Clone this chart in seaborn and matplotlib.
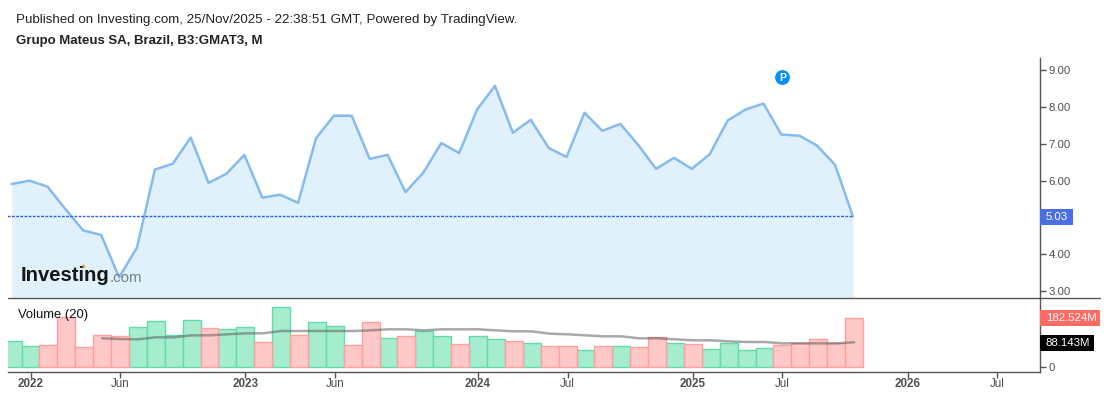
import matplotlib
matplotlib.use("Agg")
import matplotlib.pyplot as plt
from matplotlib.lines import Line2D
import numpy as np
import pandas as pd
import seaborn as sns

price = [5.91, 6.00, 5.84, 5.23, 4.65, 4.53, 3.38, 4.19, 6.30, 6.46, 7.17, 5.94,
         6.19, 6.70, 5.54, 5.62, 5.40, 7.15, 7.76, 7.76, 6.59, 6.70, 5.69, 6.22,
         7.02, 6.75, 7.93, 8.57, 7.30, 7.65, 6.89, 6.64, 7.84, 7.35, 7.54, 6.97,
         6.32, 6.62, 6.32, 6.72, 7.63, 7.93, 8.09, 7.25, 7.22, 6.95, 6.43, 5.03]
volume = [95.6, 76.7, 80.5, 186.2, 73.0, 118.3, 114.5, 148.4, 171.0, 118.3, 174.9, 144.7,
          140.9, 148.4, 91.8, 223.9, 118.3, 167.3, 152.2, 80.5, 167.3, 106.9, 114.5, 133.3,
          114.5, 84.3, 114.5, 103.2, 95.6, 88.1, 76.7, 76.7, 61.6, 76.7, 76.7, 73.0,
          110.7, 88.1, 84.3, 65.4, 88.1, 61.6, 69.2, 80.5, 88.1, 103.2, 88.1, 182.5]
direction = ["G", "G", "R", "R", "R", "R", "R", "G", "G", "G", "G", "R",
             "G", "G", "R", "G", "R", "G", "G", "R", "R", "G", "R", "G",
             "G", "R", "G", "G", "R", "G", "R", "R", "G", "R", "G", "R",
             "R", "G", "R", "G", "G", "G", "G", "R", "R", "R", "R", "R"]
vol_ma = [106.9, 104.4, 103.2, 110.7, 110.7, 118.3, 118.3, 122.0, 125.8, 125.8,
          134.6, 134.6, 134.6, 134.6, 134.6, 137.1, 140.9, 140.9, 137.1, 140.9,
          140.9, 140.9, 137.1, 133.3, 133.3, 124.5, 122.0, 118.3, 114.5, 114.5,
          106.9, 106.9, 103.2, 99.4, 99.4, 95.6, 93.1, 93.1, 88.1, 88.1, 88.1, 88.1, 91.8]
ma_start = 5
last_price = 5.03
last_volume = 182.524
last_ma = 88.143
price_ticks = [3, 4, 5, 6, 7, 8, 9]
price_tick_labels = ["3.00", "4.00", "", "6.00", "7.00", "8.00", "9.00"]
volume_ticks = [0, 100, 200]
volume_tick_labels = ["0", "", "200M"]
x_ticks = [1, 6, 13, 18, 26, 31, 38, 43, 50, 55]
x_tick_labels = ["2022", "Jun", "2023", "Jun", "2024", "Jul", "2025", "Jul", "2026", "Jul"]
year_labels = {"2022", "2023", "2024", "2025", "2026"}

idx = np.arange(len(price))
df = pd.DataFrame({"idx": idx, "price": price, "volume": volume, "direction": direction})
df_ma = pd.DataFrame({"idx": idx[ma_start:], "ma": vol_ma})

sns.set_theme(style="white")
plt.rcParams["font.family"] = ["Liberation Sans", "DejaVu Sans"]

W, H = 1107, 395
fig = plt.figure(figsize=(W / 100, H / 100), dpi=100)
def axpx(l, t, r, b):
    return fig.add_axes([l / W, 1 - b / H, (r - l) / W, (b - t) / H])

AXC = "#555555"
TXT = "#4f4f4f"
ax = axpx(8, 58, 1040, 298)
av = axpx(8, 298, 1040, 371.7)

# price pane
ax.fill_between(df["idx"], df["price"], 2.0, color="#e0f1fb", lw=0, zorder=1)
sns.lineplot(data=df, x="idx", y="price", ax=ax, color="#85bbee", lw=1.8, zorder=2, errorbar=None)
ax.plot([-1, 47], [last_price, last_price], color="#2f5fe8", lw=1, ls=(0, (2, 1)), zorder=3)
ax.set_xlim(-0.207, 57.45)
ax.set_ylim(2.821, 9.325)
ax.yaxis.tick_right()
ax.set_yticks(price_ticks, price_tick_labels)
ax.set_xticks([])
ax.set_xlabel("")
ax.set_ylabel("")
ax.tick_params(axis="y", length=4, width=1, color=AXC, labelcolor=TXT, labelsize=8.2, pad=2, right=True)

# volume pane
for key, fc, ec in [("G", "#a6edcf", "#64dca8"), ("R", "#ffc8c8", "#ffa09c")]:
    sub = df[df["direction"] == key]
    sns.barplot(data=sub, x="idx", y="volume", ax=av, native_scale=True, width=1.0,
                color=fc, saturation=1, edgecolor=ec, linewidth=1, errorbar=None, zorder=2)
sns.lineplot(data=df_ma, x="idx", y="ma", ax=av, color="#555555", alpha=0.5, lw=1.8, zorder=3, errorbar=None)
av.set_xlim(-0.257, 57.39)
av.set_ylim(-18.9, 259)
av.yaxis.tick_right()
av.set_yticks(volume_ticks, volume_tick_labels)
av.set_xticks(x_ticks, x_tick_labels)
av.set_xlabel("")
av.set_ylabel("")
av.tick_params(axis="y", length=4, width=1, color=AXC, labelcolor=TXT, labelsize=8.2, pad=2, right=True)
av.tick_params(axis="x", length=4, width=1, color=AXC, labelcolor=TXT, labelsize=8.4, pad=0.5, bottom=True)
for t in av.get_xticklabels():
    if t.get_text() in year_labels:
        t.set_fontweight("bold")

for a in (ax, av):
    for s in a.spines.values():
        s.set_visible(False)
    a.spines["right"].set_visible(True)
    a.spines["right"].set_color(AXC)
    a.spines["right"].set_linewidth(1)
av.spines["bottom"].set_visible(True)
av.spines["bottom"].set_color(AXC)
av.spines["bottom"].set_linewidth(1)

fig.add_artist(Line2D([8 / W, 1100 / W], [1 - 298 / H] * 2, color=AXC, lw=1))

def ftext(x, y, s, **kw):
    return fig.text(x / W, 1 - y / H, s, va="center", **kw)

ftext(15.5, 19.5, "Published on Investing.com, 25/Nov/2025 - 22:38:51 GMT, Powered by TradingView.",
      fontsize=9.6, color="#222222")
ftext(15.5, 41, "Grupo Mateus SA, Brazil, B3:GMAT3, M", fontsize=9.5, fontweight="bold", color="#222222")
ftext(18, 315, "Volume (20)", fontsize=9.4, color="#111111")

# watermark
ftext(20.5, 275.5, "Investing", fontsize=14.6, fontweight="bold", color="#151515")
ftext(109.5, 277.5, ".com", fontsize=10.8, color="#6f7f88")
fig.add_artist(Line2D([83 / W], [1 - 266 / H], marker="o", ms=2.6, color="#f5a623", mew=0))

# last value badges
def badge(x0, y0, x1, y1, s, bg):
    fig.patches.append(plt.Rectangle((x0 / W, 1 - y1 / H), (x1 - x0) / W, (y1 - y0) / H,
                                     transform=fig.transFigure, facecolor=bg, edgecolor="none", zorder=5))
    ftext(1046, (y0 + y1) / 2, s, fontsize=8.2, color="white", zorder=6)

badge(1040, 209, 1073, 224.5, f"{last_price:.2f}", "#4a6fe3")
badge(1040, 310, 1100, 326, f"{last_volume:.3f}M", "#ff6b63")
badge(1040, 335, 1094, 350.5, f"{last_ma:.3f}M", "#000000")

# P marker
ax.scatter([43.05], [8.81], s=125, color="#0a8ffa", edgecolor="white", linewidth=0.5, zorder=6, clip_on=False)
ax.text(43.05, 8.79, "P", color="white", fontsize=7.5, fontweight="bold", ha="center", va="center", zorder=7)

fig.savefig("out.png", dpi=100, facecolor="white")
